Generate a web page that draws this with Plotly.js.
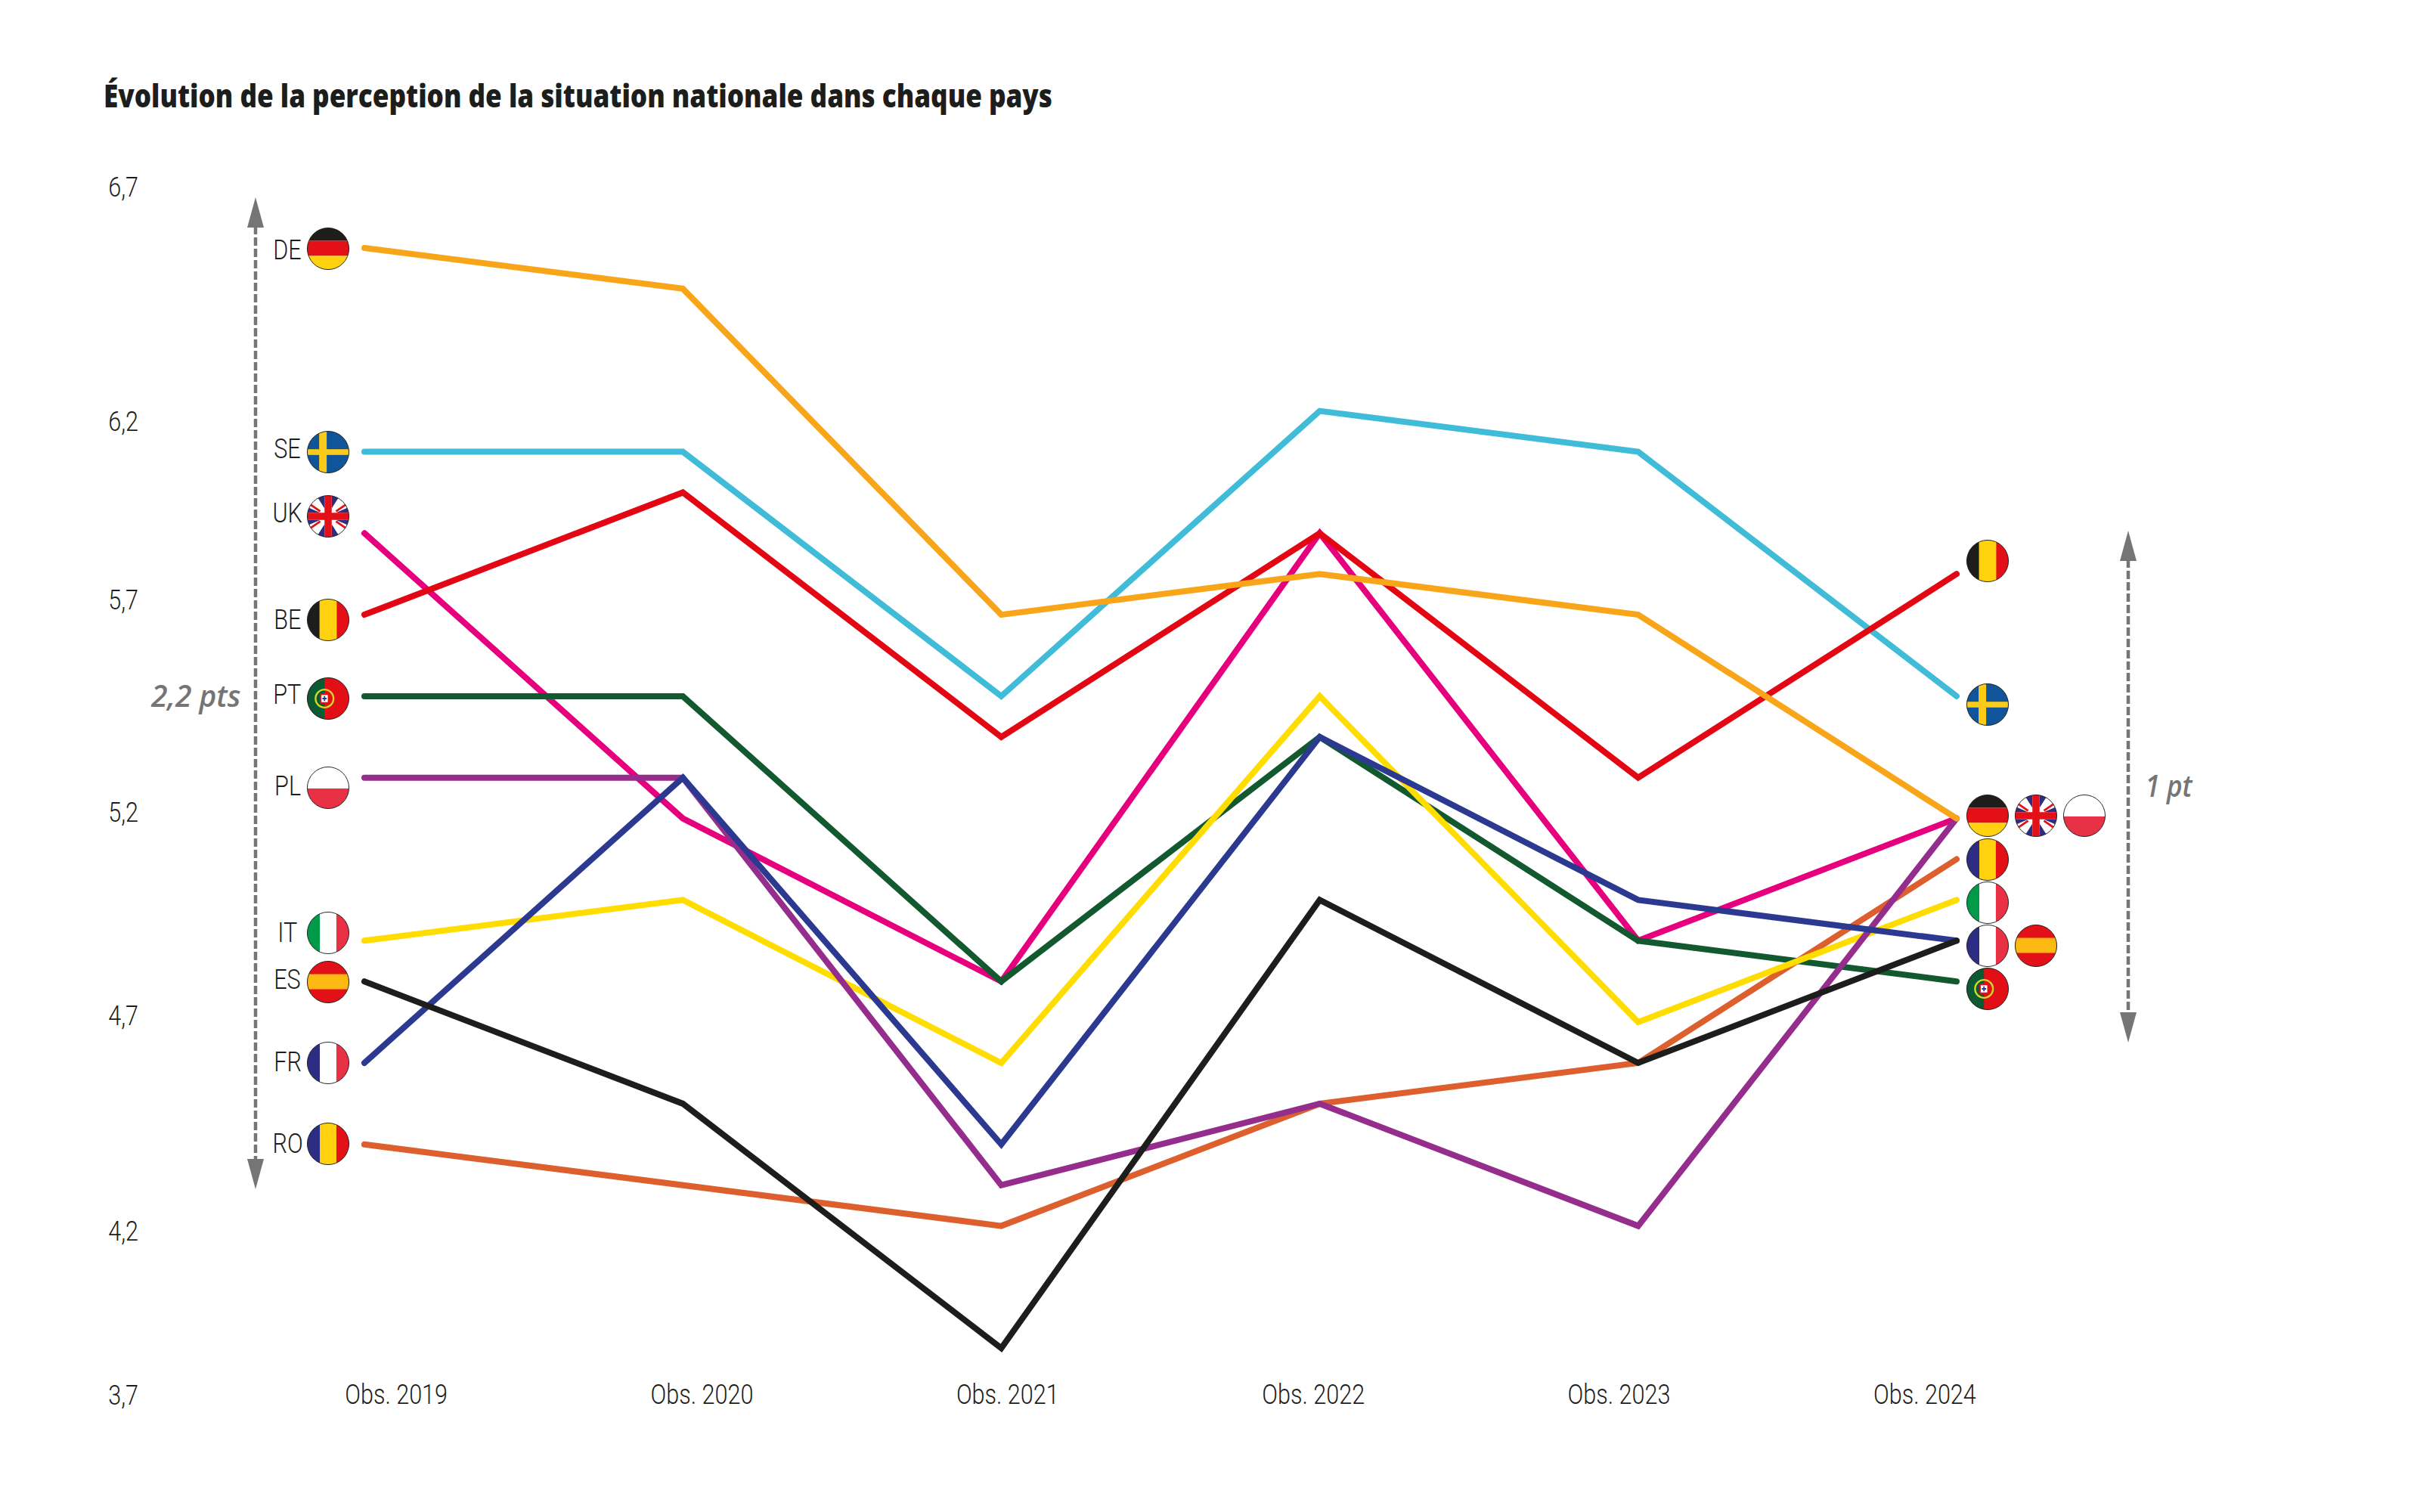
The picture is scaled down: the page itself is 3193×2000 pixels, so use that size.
<!DOCTYPE html>
<html><head><meta charset="utf-8">
<script src="https://cdn.plot.ly/plotly-3.0.1.min.js"></script>
<style>html,body{margin:0;padding:0;background:#fff}</style></head>
<body><div id="chart" style="width:3193px;height:2000px"></div>
<script>
const WIDTH = 3193, HEIGHT = 2000;
const years = [2019, 2020, 2021, 2022, 2023, 2024];
const DE = [6.6, 6.5, 5.7, 5.8, 5.7, 5.2];
const SE = [6.1, 6.1, 5.5, 6.2, 6.1, 5.5];
const UK = [5.9, 5.2, 4.8, 5.9, 4.9, 5.2];
const BE = [5.7, 6.0, 5.4, 5.9, 5.3, 5.8];
const PT = [5.5, 5.5, 4.8, 5.4, 4.9, 4.8];
const PL = [5.3, 5.3, 4.3, 4.5, 4.2, 5.2];
const IT = [4.9, 5.0, 4.6, 5.5, 4.7, 5.0];
const ES = [4.8, 4.5, 3.9, 5.0, 4.6, 4.9];
const FR = [4.6, 5.3, 4.4, 5.4, 5.0, 4.9];
const RO = [4.4, 4.3, 4.2, 4.5, 4.6, 5.1];
const seriesList = [
  ['RO', RO, '#DD5F2E'], ['UK', UK, '#E6007E'], ['PT', PT, '#12592F'], ['IT', IT, '#FFDD00'],
  ['PL', PL, '#952D8C'], ['FR', FR, '#2B3990'], ['SE', SE, '#40BCD8'], ['BE', BE, '#E30613'],
  ['DE', DE, '#F9A51A'], ['ES', ES, '#1D1D1B']
];
const yTickLabels = ['6,7', '6,2', '5,7', '5,2', '4,7', '4,2', '3,7'];
const yTickSpots = [6.75, 6.175, 5.737, 5.216, 4.717, 4.188, 3.784];
const xTickLabels = ['Obs. 2019', 'Obs. 2020', 'Obs. 2021', 'Obs. 2022', 'Obs. 2023', 'Obs. 2024'];
const xTickSpots = [2019.10, 2020.06, 2021.02, 2021.98, 2022.94, 2023.90];

const X0 = 482, XSTEP = 421.2, Y0 = 328, YUNIT = 539;
const xRange = [2019 - X0 / XSTEP, 2019 + (WIDTH - X0) / XSTEP];
const yRange = [6.6 - (HEIGHT - Y0) / YUNIT, 6.6 + Y0 / YUNIT];
const fx = p => p / WIDTH, fy = p => 1 - p / HEIGHT;

const circle = inner => 'data:image/svg+xml;utf8,' + encodeURIComponent(
 `<svg xmlns="http://www.w3.org/2000/svg" width="120" height="120" viewBox="0 0 120 120"><defs><clipPath id="c"><circle cx="60" cy="60" r="58"/></clipPath></defs><g clip-path="url(#c)">${inner}</g><circle cx="60" cy="60" r="58" fill="none" stroke="#1d1d1b" stroke-width="2"/></svg>`);
const vs = (a,b,c,w1,w2) => `<rect width="${w1+1}" height="120" fill="${a}"/><rect x="${w1}" width="${w2+1}" height="120" fill="${b}"/><rect x="${w1+w2}" width="${120-w1-w2}" height="120" fill="${c}"/>`;
const flags = {
  DE: circle('<rect width="120" height="38" fill="#1D1D1B"/><rect y="38" width="120" height="42" fill="#E31017"/><rect y="80" width="120" height="40" fill="#FFD10E"/>'),
  SE: circle('<rect width="120" height="120" fill="#10559A"/><rect x="35" width="21" height="120" fill="#FCCB18"/><rect y="52" width="120" height="16" fill="#FCCB18"/>'),
  UK: circle('<rect width="120" height="120" fill="#fff"/><path d="M26 0L50 0L50 38ZM94 0L70 0L70 38ZM26 120L50 120L50 82ZM94 120L70 120L70 82ZM2 34L38 50L2 50ZM118 34L82 50L118 50ZM2 86L38 70L2 70ZM118 86L82 70L118 70Z" fill="#2E2D7F"/><path d="M6 24L38 46M114 24L82 46M6 96L38 74M114 96L82 74" stroke="#E31017" stroke-width="6"/><rect x="50" width="20" height="120" fill="#E31017"/><rect y="50" width="120" height="20" fill="#E31017"/>'),
  BE: circle(vs('#1D1D1B','#FFD10E','#E31017',36,48)),
  PT: circle('<rect width="120" height="120" fill="#E30F17"/><rect width="50" height="120" fill="#0B5A32"/><circle cx="50" cy="60" r="25" fill="none" stroke="#D3D922" stroke-width="5"/><rect x="37" y="45" width="26" height="30" rx="5" fill="#E30F17"/><rect x="41" y="50" width="18" height="20" fill="#fff"/><path d="M50 53V67M44 60H56" stroke="#2B3990" stroke-width="4"/>'),
  PL: circle('<rect width="120" height="62" fill="#fff"/><rect y="62" width="120" height="58" fill="#E83145"/>'),
  IT: circle(vs('#009A49','#fff','#E83145',37,46)),
  ES: circle('<rect width="120" height="120" fill="#E31017"/><rect y="38" width="120" height="42" fill="#FCB912"/>'),
  FR: circle(vs('#2E2D84','#fff','#E83145',37,46)),
  RO: circle(vs('#2E2D84','#FFD10E','#E31017',37,46))
};
const flagSpots = [
  ['DE',434,329],['SE',434,598],['UK',434,683],['BE',434,820],['PT',434,924],['PL',434,1042],['IT',434,1234],['ES',434,1299],['FR',434,1406],['RO',434,1513],
  ['BE',2629,742],['SE',2629,932],['DE',2629,1079],['UK',2693,1079],['PL',2757,1079],['RO',2629,1137],['IT',2629,1194],['FR',2629,1251],['ES',2693,1251],['PT',2629,1308]
];
const countryLabels = [['DE',331],['SE',594],['UK',679],['BE',820],['PT',919],['PL',1040],['IT',1234],['ES',1296],['FR',1405],['RO',1513]];

const LABEL_STYLE = {family: 'Roboto, sans-serif', size: 36, weight: 300, color: '#1D1D1B'};
const NOTE_COLOR = '#757575';
const traces = seriesList.map(([name, vals, color]) => ({
  x: years, y: vals, name, type: 'scatter', mode: 'lines',
  line: {color, width: 8}, hoverinfo: 'skip', cliponaxis: false
}));

const arrow = (x, top, bot) => [
  {type:'line', xref:'paper', yref:'paper', x0:fx(x), x1:fx(x), y0:fy(top+38), y1:fy(bot-38), line:{color:NOTE_COLOR, width:4.5, dash:'11px,4px'}},
  {type:'path', xref:'paper', yref:'paper', path:`M${fx(x)},${fy(top)} L${fx(x+11)},${fy(top+40)} L${fx(x-11)},${fy(top+40)} Z`, fillcolor:NOTE_COLOR, line:{width:0}},
  {type:'path', xref:'paper', yref:'paper', path:`M${fx(x)},${fy(bot)} L${fx(x+11)},${fy(bot-40)} L${fx(x-11)},${fy(bot-40)} Z`, fillcolor:NOTE_COLOR, line:{width:0}}
];

const layout = {
  width: WIDTH, height: HEIGHT, margin: {l:0, r:0, t:0, b:0, pad:0}, showlegend: false,
  paper_bgcolor: '#fff', plot_bgcolor: 'rgba(0,0,0,0)',
  title: {text: 'Évolution de la perception de la situation nationale dans chaque pays',
    x: 137/WIDTH, xanchor: 'left', xref:'paper', y: 1-127/HEIGHT, yanchor: 'middle', yref:'paper', automargin:false,
    font: {family: 'Open Sans, sans-serif', size: 43, weight: 800, color: '#1D1D1B'}},
  xaxis: {range: xRange, anchor: 'free', position: 1-1820/HEIGHT, domain:[0,1], tickmode:'array', tickvals: xTickSpots, ticktext: xTickLabels,
    showgrid:false, zeroline:false, showline:false, ticks:'', automargin:false, tickfont:LABEL_STYLE},
  yaxis: {range: yRange, anchor: 'free', position: 183/WIDTH, domain:[0,1], tickmode:'array', tickvals: yTickSpots, ticktext: yTickLabels,
    showgrid:false, zeroline:false, showline:false, ticks:'', automargin:false, tickfont:LABEL_STYLE},
  shapes: [...arrow(338,261,1573), ...arrow(2815,702,1379)],
  images: flagSpots.map(([k,x,y]) => ({source: flags[k], xref:'paper', yref:'paper', x:fx(x), y:fy(y), sizex:57/WIDTH, sizey:57/HEIGHT, sizing:'stretch', xanchor:'center', yanchor:'middle', layer:'above'})),
  annotations: [
    ...countryLabels.map(([t,y]) => ({text:t, xref:'paper', yref:'paper', x:fx(380), y:fy(y), xanchor:'center', yanchor:'middle', showarrow:false, font:LABEL_STYLE})),
    {text:'2,2 pts', xref:'paper', yref:'paper', x:fx(320), y:fy(920), xanchor:'right', yanchor:'middle', showarrow:false, font:{family:'Open Sans, sans-serif', size:39, style:'italic', weight:600, color:NOTE_COLOR}},
    {text:'1 pt', xref:'paper', yref:'paper', x:fx(2832), y:fy(1038), xanchor:'left', yanchor:'middle', showarrow:false, font:{family:'Open Sans, sans-serif', size:39, style:'italic', weight:600, color:NOTE_COLOR}}
  ]
};
const squeeze = (el, f) => { el.setAttribute('textLength', el.getComputedTextLength()*f); el.setAttribute('lengthAdjust','spacingAndGlyphs'); };
Plotly.newPlot('chart', traces, layout, {displayModeBar:false, staticPlot:true}).then(() => {
  document.querySelectorAll('.xtick text, .ytick text').forEach(t => squeeze(t, 0.85));
  document.querySelectorAll('.annotation-text').forEach(t => {
    if (t.textContent.length === 2) squeeze(t, 0.85);
    if (t.textContent === '1 pt') squeeze(t, 0.9);
  });
  document.querySelectorAll('.gtitle').forEach(t => squeeze(t, 0.816));
  document.querySelectorAll('.js-line').forEach(p => { p.style.strokeLinecap='round'; });
});
</script></body></html>
